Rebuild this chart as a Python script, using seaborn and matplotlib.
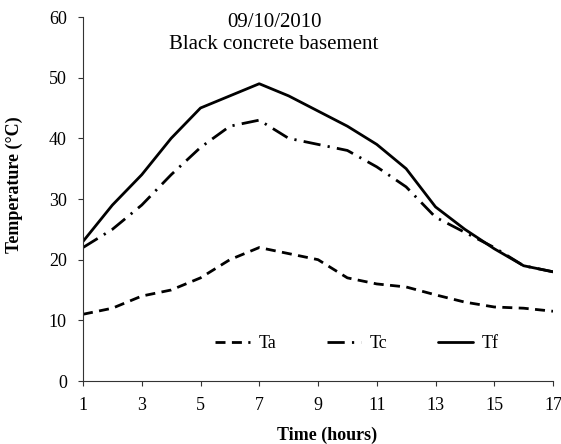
import matplotlib
matplotlib.use("Agg")
import matplotlib.pyplot as plt
import seaborn as sns
import pandas as pd

hours = list(range(1, 18))
Ta = [11, 12, 14, 15, 17, 20, 22, 21, 20, 17, 16, 15.5, 14.2, 13, 12.2, 12, 11.5]
Tc = [22, 25, 29, 34, 38.5, 42, 43, 40, 39, 38, 35.3, 32, 27, 24.5, 22, 19, 18]
Tf = [23, 29, 34, 40, 45, 47, 49, 47, 44.5, 42, 39, 35, 28.7, 25, 21.8, 19, 18]
series_names = ["Ta", "Tc", "Tf"]
xticks = [1, 3, 5, 7, 9, 11, 13, 15, 17]
yticks = [0, 10, 20, 30, 40, 50, 60]
title_lines = ["09/10/2010", "Black concrete basement"]

rows = []
for name, vals in zip(series_names, [Ta, Tc, Tf]):
    for h, v in zip(hours, vals):
        rows.append({"Time": h, "Temp": v, "Series": name})
df = pd.DataFrame(rows)

sns.set_theme(style="white")
plt.rcParams['font.family'] = ['Liberation Serif', 'DejaVu Serif']

fig = plt.figure(figsize=(5.61, 4.44), dpi=100)
ax = fig.add_axes([83/561, 1 - 381/444, 470/561, 364/444])

dashes = {"Ta": (3.6, 2.3), "Tc": (6.2, 2.6, 0.8, 2.6), "Tf": ""}
sns.lineplot(data=df, x="Time", y="Temp", hue="Series", style="Series",
             palette={"Ta": "black", "Tc": "black", "Tf": "black"},
             dashes=dashes, linewidth=2.0, ax=ax, legend=True)

ax.set_xlim(1, 17)
ax.set_ylim(0, 60)
ax.set_xticks(xticks)
ax.set_yticks(yticks)
ax.tick_params(axis='both', labelsize=13, colors='#333333', labelcolor='black',
               direction='out', length=3.6, width=0.8, bottom=True, left=True, pad=8)
for s in ["top", "right"]:
    ax.spines[s].set_visible(False)
for s in ["left", "bottom"]:
    ax.spines[s].set_color("#333333")
    ax.spines[s].set_linewidth(0.8)
ax.set_xlabel("Time (hours)", fontsize=13, fontweight='bold', color='black')
ax.set_ylabel("Temperature (°C)", fontsize=13, fontweight='bold', color='black')
ax.xaxis.set_label_coords(0.519, -0.125)
ax.yaxis.set_label_coords(-0.128, 0.54)
ax.grid(False)

fig.text(274/561, 1 - 27/444, title_lines[0], ha='center', va='baseline',
         fontsize=15, color='black')
fig.text(274/561, 1 - 49/444, title_lines[1], ha='center', va='baseline',
         fontsize=15, color='black')

leg = ax.legend(loc='center', bbox_to_anchor=(0.583, 0.102), ncol=3, frameon=False,
                fontsize=13, handlelength=1.9, columnspacing=2.8, handletextpad=0.5)
for t in leg.get_texts():
    t.set_color('black')

fig.savefig("out.png", dpi=100)
